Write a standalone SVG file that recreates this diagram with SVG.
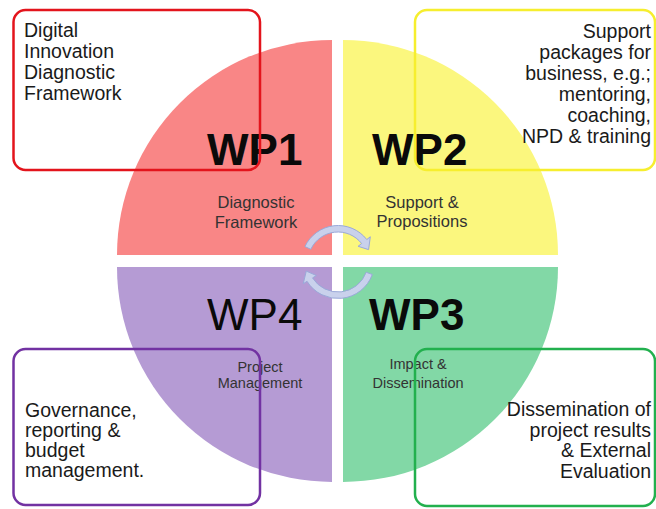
<svg xmlns="http://www.w3.org/2000/svg" width="656" height="509" viewBox="0 0 656 509">
<style>
text{font-family:"Liberation Sans",Arial,sans-serif}
.box{fill:none;stroke-width:2.5}
.bt{font-size:19.5px;fill:#1a1a1a}
.wp{font-size:44px;fill:#0a0a0a}
.b{font-weight:bold}
.lb{font-size:16.5px;fill:#333;text-anchor:middle}
.ls{font-size:14.5px;fill:#333;text-anchor:middle}
.arr{fill:#C9D1EC;stroke:#9AA9D9;stroke-width:1}
</style>
<rect width="656" height="509" fill="#fff"/>
<g id="wp1">
<path d="M332,255 L117,255 A215,215 0 0 1 332,40 Z" fill="#F98686"/>
<text class="wp b" x="207" y="165">WP1</text>
<text class="lb" x="256" y="208">Diagnostic</text>
<text class="lb" x="256" y="228">Framework</text>
</g>
<g id="wp2">
<path d="M343,255 L343,40 A215,215 0 0 1 558,255 Z" fill="#FBF77E"/>
<text class="wp b" x="372" y="165">WP2</text>
<text class="lb" x="422" y="208">Support &amp;</text>
<text class="lb" x="422" y="227">Propositions</text>
</g>
<g id="wp3">
<path d="M343,267 L558,267 A215,215 0 0 1 343,482 Z" fill="#82D8A6"/>
<text class="wp b" x="369" y="330">WP3</text>
<text class="ls" x="418" y="369">Impact &amp;</text>
<text class="ls" x="418" y="388">Dissemination</text>
</g>
<g id="wp4">
<path d="M332,267 L332,482 A215,215 0 0 1 117,267 Z" fill="#B59BD4"/>
<text class="wp" x="207" y="330">WP4</text>
<text class="ls" x="260" y="372">Project</text>
<text class="ls" x="260" y="388">Management</text>
</g>
<g id="connectors">
<path class="arr" d="M304.92,246.57 A36.5,36.5 0 0 1 366.76,239.53 L370.31,236.76 L368.60,249.64 L358.09,246.30 L361.64,243.53 A30,30 0 0 0 310.81,249.32 Z"/>
<path class="arr" d="M372.30,274.48 A36.5,36.5 0 0 1 307.05,281.34 L303.23,283.73 L306.28,271.10 L316.38,275.51 L312.56,277.90 A30,30 0 0 0 366.19,272.26 Z"/>
</g>
<g id="box1">
<rect class="box" x="13.5" y="10" width="246.5" height="160" rx="12" stroke="#E3141C"/>
<text class="bt" x="24" y="37">Digital</text>
<text class="bt" x="24" y="58">Innovation</text>
<text class="bt" x="24" y="79">Diagnostic</text>
<text class="bt" x="24" y="100">Framework</text>
</g>
<g id="box2">
<rect class="box" x="415" y="10" width="240" height="160" rx="12" stroke="#F6EE2E"/>
<g text-anchor="end">
<text class="bt" x="651" y="38">Support</text>
<text class="bt" x="651" y="59">packages for</text>
<text class="bt" x="651" y="80">business, e.g.;</text>
<text class="bt" x="651" y="101">mentoring,</text>
<text class="bt" x="651" y="122">coaching,</text>
<text class="bt" x="651" y="143">NPD &amp; training</text>
</g>
</g>
<g id="box3">
<rect class="box" x="415" y="349" width="240" height="157" rx="12" stroke="#22B04E"/>
<g text-anchor="end">
<text class="bt" x="651" y="416">Dissemination of</text>
<text class="bt" x="651" y="437">project results</text>
<text class="bt" x="651" y="457">&amp; External</text>
<text class="bt" x="651" y="478">Evaluation</text>
</g>
</g>
<g id="box4">
<rect class="box" x="13.5" y="349" width="246.5" height="156" rx="12" stroke="#7232A2"/>
<text class="bt" x="25" y="417">Governance,</text>
<text class="bt" x="25" y="437">reporting &amp;</text>
<text class="bt" x="25" y="457">budget</text>
<text class="bt" x="25" y="477">management.</text>
</g>
</svg>
